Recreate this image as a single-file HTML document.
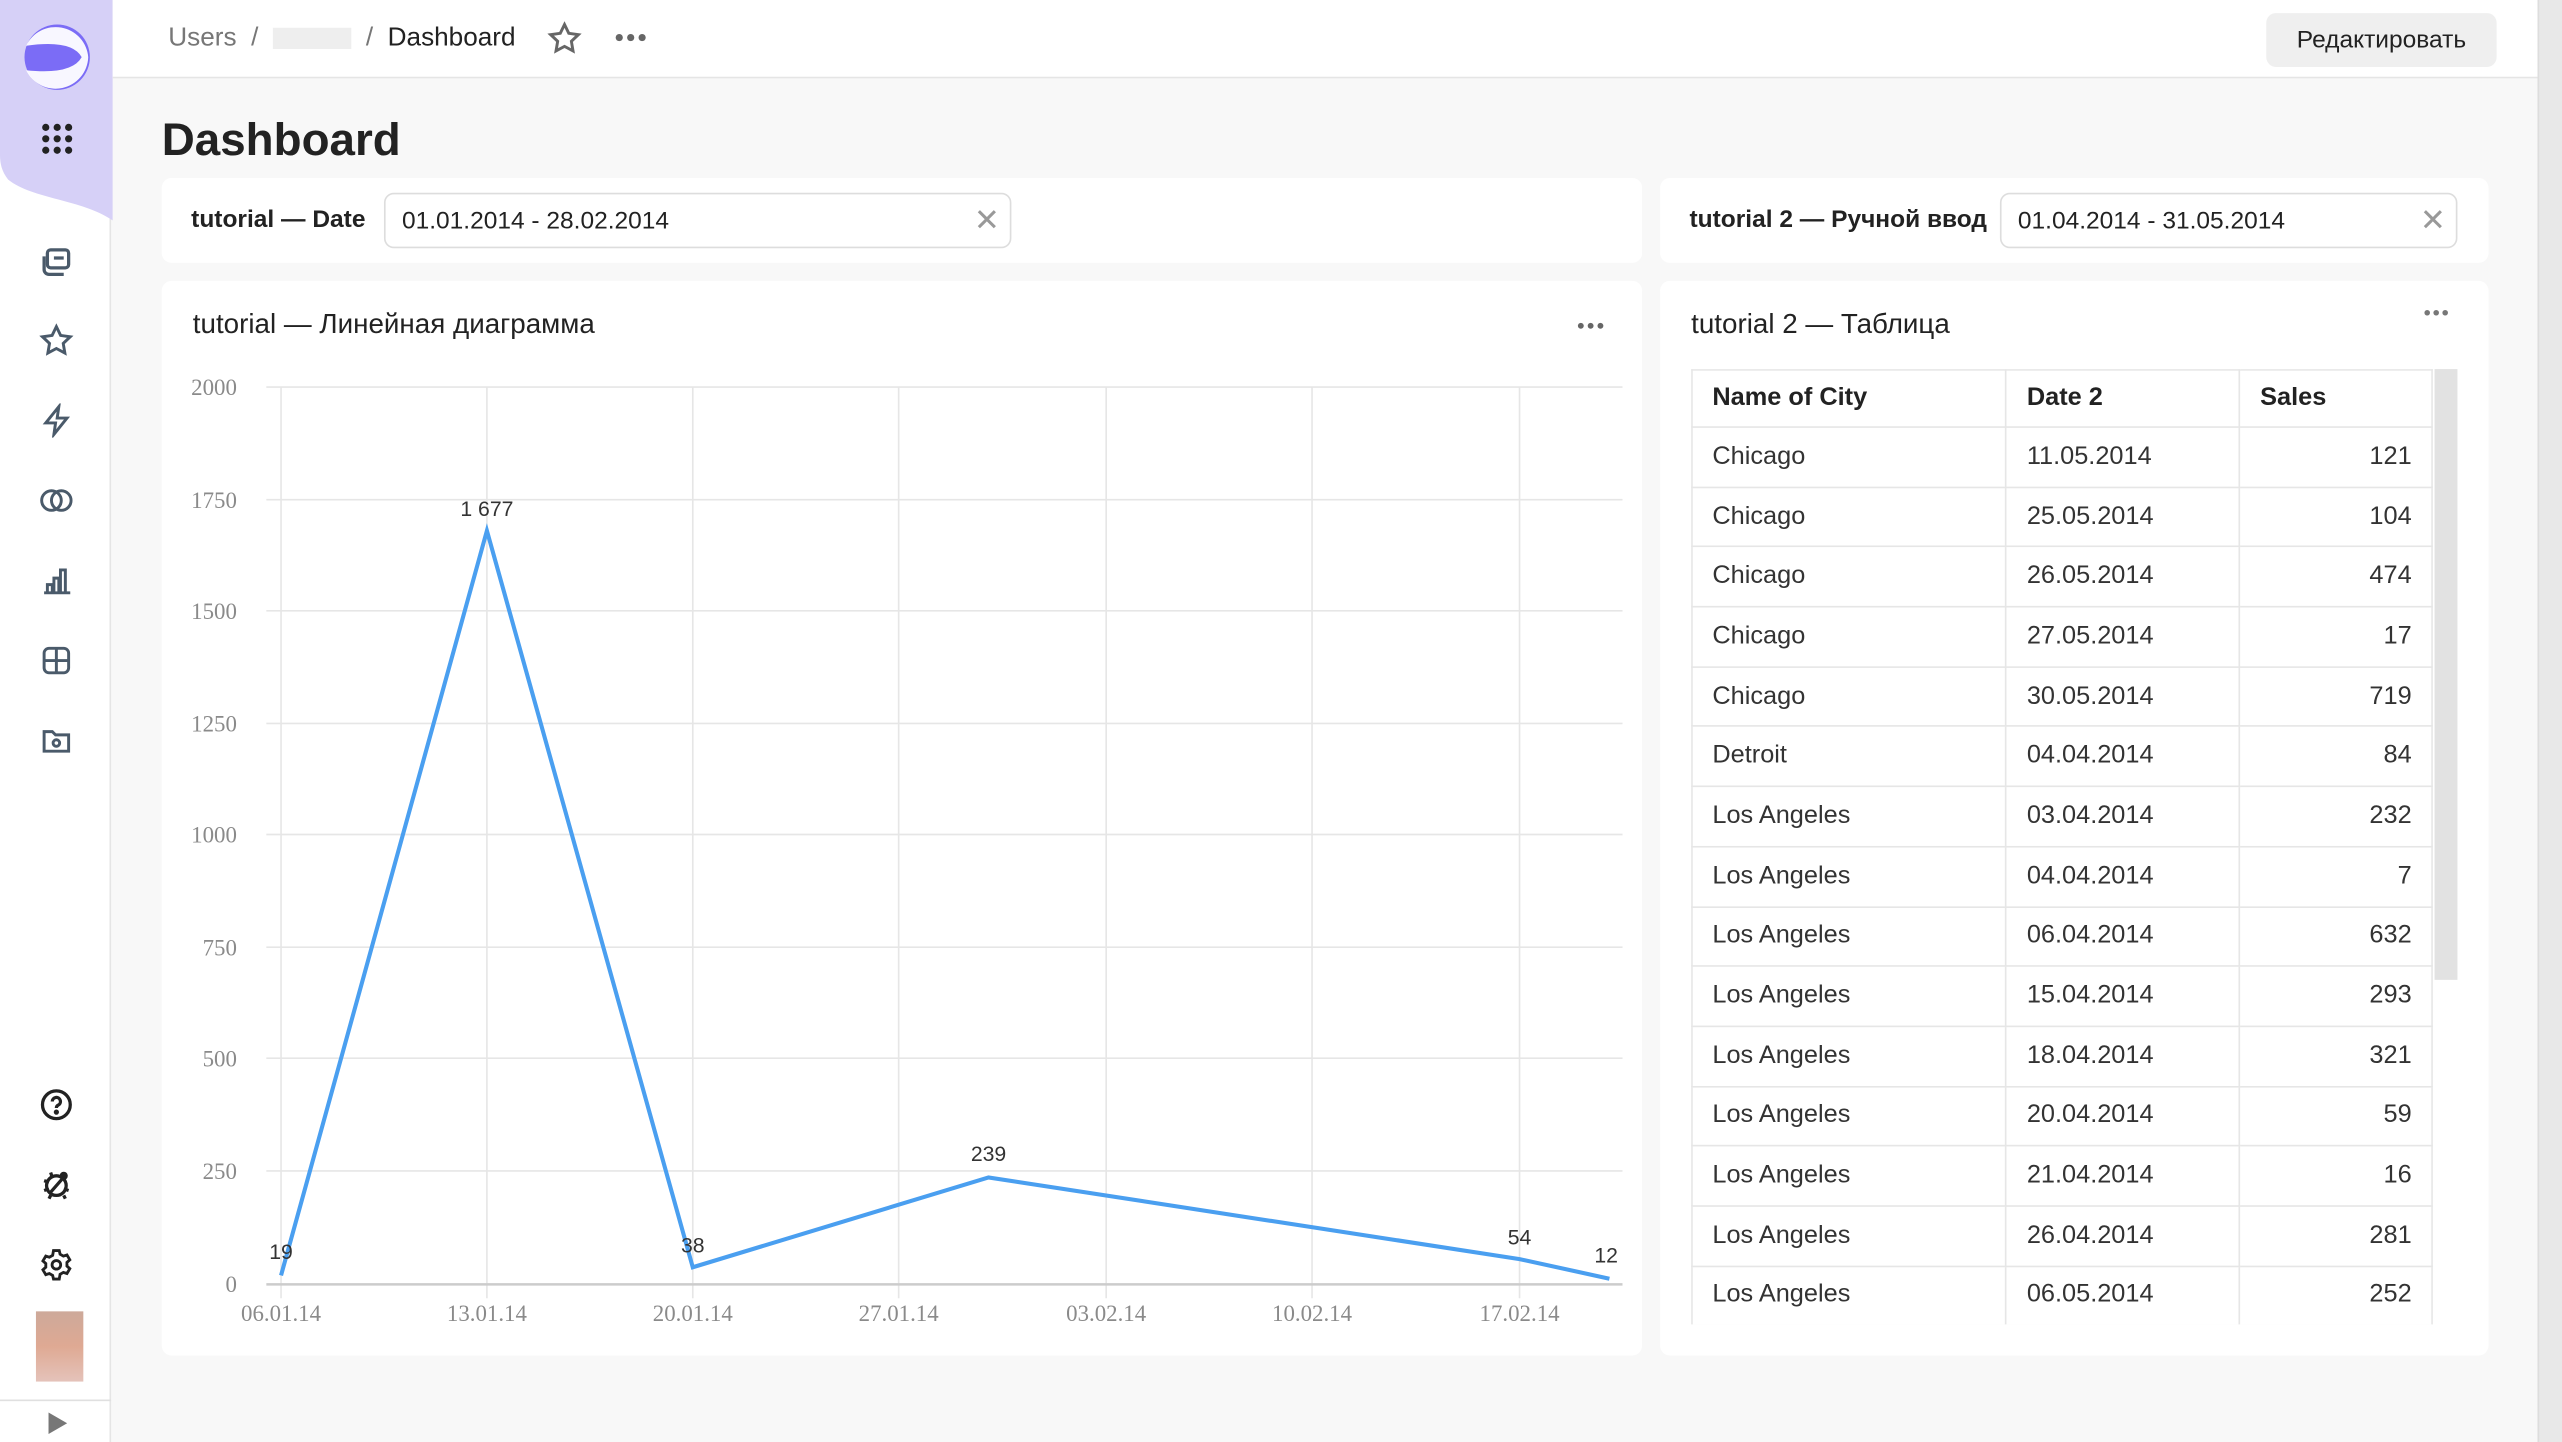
<!DOCTYPE html>
<html><head><meta charset="utf-8"><style>
*{box-sizing:border-box;margin:0;padding:0}
html,body{width:2562px;height:1442px;overflow:hidden;background:#f8f8f8}
#w{position:absolute;left:0;top:0;width:1568px;height:883px;transform:scale(1.63393,1.63307);transform-origin:0 0;font-family:"Liberation Sans","Noto Sans CJK SC",sans-serif;color:#222;background:#f8f8f8}
.a{position:absolute}
.card{position:absolute;background:#fff;border-radius:6px}
.inp{position:absolute;border:1px solid #ddd;border-radius:6px;background:#fff;font-size:15px;padding-left:10px;line-height:32px}
table{border-collapse:collapse;font-size:15.5px}
td,th{border:1px solid #e6e6e6;height:36.7px;padding:0 12px;text-align:left;font-weight:normal;color:#333}
th{font-weight:bold;color:#222;height:35px}
td.n{text-align:right}
.ic{position:absolute;left:24px;width:21px;height:21px}
</style></head><body><div id="w">
<div class="a" style="left:0;top:0;width:68px;height:883px;background:#fff;border-right:1px solid #e5e5e5"></div>
<svg class="a" style="left:0;top:0" width="69" height="140"><path d="M0 0H69V135C50 122 20 122 5 110 1 105 0 100 0 95Z" fill="#d6d0f7"/></svg>
<svg class="a" style="left:14px;top:14px" width="42" height="42"><circle cx="21" cy="21" r="20" fill="#7b6cf6"/><path d="M2 14Q30 10 36 21Q30 32 2 29A20 20 0 0 0 40 21A20 20 0 0 0 2 14Z" fill="#fff" opacity=".95"/></svg>
<svg class="a" style="left:25px;top:75px" width="20" height="20" fill="#222"><circle cx="3" cy="3" r="2.2"/><circle cx="10" cy="3" r="2.2"/><circle cx="17" cy="3" r="2.2"/><circle cx="3" cy="10" r="2.2"/><circle cx="10" cy="10" r="2.2"/><circle cx="17" cy="10" r="2.2"/><circle cx="3" cy="17" r="2.2"/><circle cx="10" cy="17" r="2.2"/><circle cx="17" cy="17" r="2.2"/></svg>
<svg class="ic" style="top:150px" viewBox="0 0 21 21" fill="none" stroke="#4a5a6a" stroke-width="2"><rect x="5" y="3" width="13" height="11" rx="2"/><path d="M3 7v8a3 3 0 0 0 3 3h9"/><path d="M9 8h6"/></svg>
<svg class="ic" style="top:198px" viewBox="0 0 21 21" fill="none" stroke="#4a5a6a" stroke-width="1.8"><path d="M10.5 2l2.6 5.4 5.9.8-4.3 4.1 1 5.9-5.2-2.8-5.2 2.8 1-5.9L2 8.2l5.9-.8z"/></svg>
<svg class="ic" style="top:247px" viewBox="0 0 21 21" fill="none" stroke="#4a5a6a" stroke-width="1.8"><path d="M12 2L4 12h6l-1 7 8-10h-6z"/></svg>
<svg class="ic" style="top:296px" viewBox="0 0 21 21" fill="none" stroke="#4a5a6a" stroke-width="1.8"><circle cx="7.5" cy="10.5" r="6"/><circle cx="13.5" cy="10.5" r="6"/></svg>
<svg class="ic" style="top:345px" viewBox="0 0 21 21" fill="none" stroke="#4a5a6a" stroke-width="1.8"><path d="M3 18h16M5 18v-5h3v5M9 18V9h3v9M13 18V4h3v14"/></svg>
<svg class="ic" style="top:394px" viewBox="0 0 21 21" fill="none" stroke="#4a5a6a" stroke-width="1.8"><rect x="3" y="3" width="15" height="15" rx="3"/><path d="M3 10.5h15M10.5 3v15"/></svg>
<svg class="ic" style="top:443px" viewBox="0 0 21 21" fill="none" stroke="#4a5a6a" stroke-width="1.8"><path d="M3 5h5l2 2h8v10H3z"/><circle cx="10.5" cy="12" r="2"/></svg>
<svg class="ic" style="top:666px" viewBox="0 0 21 21" fill="none" stroke="#222" stroke-width="2"><circle cx="10.5" cy="10.5" r="8.5"/><path d="M8 8.5a2.5 2.5 0 1 1 3.5 2.3c-.8.4-1 .9-1 1.7"/><circle cx="10.5" cy="15" r=".6" fill="#222"/></svg>
<svg class="ic" style="top:715px" viewBox="0 0 21 21" fill="none" stroke="#222" stroke-width="2"><circle cx="10.5" cy="11" r="6"/><path d="M7 15l7-8M3 8l3 1M3 14l3-1M18 14l-3-1M15 17l1 2M7 17l-1 2M7 3l1 3"/><circle cx="15" cy="5" r="1.5" fill="#222"/></svg>
<svg class="ic" style="top:764px" viewBox="0 0 24 24" fill="none" stroke="#222" stroke-width="2"><circle cx="12" cy="12" r="3"/><path d="M10 2h4l.6 2.6 2.3 1.3 2.5-.8 2 3.4-2 1.8v2.6l2 1.8-2 3.4-2.5-.8-2.3 1.3L14 22h-4l-.6-2.6-2.3-1.3-2.5.8-2-3.4 2-1.8v-2.6l-2-1.8 2-3.4 2.5.8 2.3-1.3z"/></svg>
<div class="a" style="left:22px;top:803px;width:29px;height:43px;background:linear-gradient(#c49a88,#d99a80 50%,#e0b8ae);opacity:.85"></div>
<div class="a" style="left:0;top:857px;width:68px;border-top:1px solid #e0e0e0"></div>
<div class="a" style="left:28px;top:862px;font-size:14px;color:#777">▶</div>
<div class="a" style="left:69px;top:0;width:1484px;height:48px;background:#fff;border-bottom:1px solid #e5e5e5"></div>
<div class="a" style="left:103px;top:15px;font-size:16px;color:#777">Users&nbsp;&nbsp;/&nbsp;&nbsp;<span style="display:inline-block;width:48px;height:13px;background:#eee;vertical-align:middle"></span>&nbsp;&nbsp;/&nbsp;&nbsp;<span style="color:#222">Dashboard</span></div>
<svg class="a" style="left:335px;top:13px" width="21" height="21" viewBox="0 0 21 21" fill="none" stroke="#666" stroke-width="1.8"><path d="M10.5 2l2.6 5.4 5.9.8-4.3 4.1 1 5.9-5.2-2.8-5.2 2.8 1-5.9L2 8.2l5.9-.8z"/></svg>
<svg class="a" style="left:376px;top:20px" width="20" height="6" fill="#666"><circle cx="3" cy="3" r="2.2"/><circle cx="10" cy="3" r="2.2"/><circle cx="17" cy="3" r="2.2"/></svg>
<div class="a" style="left:1387px;top:8px;width:141px;height:33px;background:#efefef;border-radius:6px;font-size:15px;line-height:33px;text-align:center;color:#222">Редактировать</div>
<div class="a" style="left:1553px;top:0;width:15px;height:883px;background:#e8e8e8;border-left:1px solid #ddd"></div>
<div class="a" style="left:99px;top:70px;font-size:28px;font-weight:bold;color:#222">Dashboard</div>
<div class="card" style="left:99px;top:109px;width:906px;height:52px"></div>
<div class="a" style="left:117px;top:126px;font-size:15px;font-weight:bold">tutorial — Date</div>
<div class="inp" style="left:235px;top:118px;width:384px;height:34px;line-height:34px">01.01.2014 - 28.02.2014</div>
<div class="a" style="left:596px;top:124px;font-size:19px;color:#999">✕</div>
<div class="card" style="left:1016px;top:109px;width:507px;height:52px"></div>
<div class="a" style="left:1034px;top:126px;font-size:15px;font-weight:bold">tutorial 2 — Ручной ввод</div>
<div class="inp" style="left:1224px;top:118px;width:280px;height:34px;line-height:34px">01.04.2014 - 31.05.2014</div>
<div class="a" style="left:1481px;top:124px;font-size:19px;color:#999">✕</div>
<div class="card" style="left:99px;top:172px;width:906px;height:658px"></div>
<div class="a" style="left:118px;top:189px;font-size:17px">tutorial — Линейная диаграмма</div>
<svg class="a" style="left:965px;top:197px" width="18" height="5" fill="#666"><circle cx="2.5" cy="2.5" r="1.8"/><circle cx="8.5" cy="2.5" r="1.8"/><circle cx="14.5" cy="2.5" r="1.8"/></svg>
<svg class="a" style="left:0;top:0" width="1010" height="830" font-family="Liberation Serif,serif" font-size="14">
<g stroke="#e6e6e6" stroke-width="1">
<path d="M163 237H993M163 306H993M163 374H993M163 443H993M163 511H993M163 580H993M163 648H993M163 717H993"/>
<path d="M172 237V795M298 237V795M424 237V795M550 237V795M677 237V795M803 237V795M930 237V795"/>
</g>
<path d="M163 786.5H993" stroke="#ccc" stroke-width="1.5"/>
<g fill="#8a8a8a" text-anchor="end">
<text x="145" y="242">2000</text><text x="145" y="311">1750</text><text x="145" y="379">1500</text><text x="145" y="448">1250</text><text x="145" y="516">1000</text><text x="145" y="585">750</text><text x="145" y="653">500</text><text x="145" y="722">250</text><text x="145" y="791">0</text>
</g>
<g fill="#8a8a8a" text-anchor="middle">
<text x="172" y="809">06.01.14</text><text x="298" y="809">13.01.14</text><text x="424" y="809">20.01.14</text><text x="550" y="809">27.01.14</text><text x="677" y="809">03.02.14</text><text x="803" y="809">10.02.14</text><text x="930" y="809">17.02.14</text>
</g>
<polyline points="172,781 298,325 424,776 605,721 930,771 985,783" fill="none" stroke="#4a9ff0" stroke-width="2.5"/>
<g fill="#333" font-family="Liberation Sans,sans-serif" font-size="13" text-anchor="middle">
<text x="172" y="771">19</text><text x="298" y="316">1 677</text><text x="424" y="767">38</text><text x="605" y="711">239</text><text x="930" y="762">54</text><text x="983" y="773">12</text>
</g>
</svg>
<div class="card" style="left:1016px;top:172px;width:507px;height:658px"></div>
<div class="a" style="left:1035px;top:189px;font-size:17px">tutorial 2 — Таблица</div>
<svg class="a" style="left:1483px;top:189px" width="16" height="5" fill="#777"><circle cx="2.5" cy="2.5" r="1.7"/><circle cx="8" cy="2.5" r="1.7"/><circle cx="13.5" cy="2.5" r="1.7"/></svg>
<div class="a" style="left:1490px;top:226px;width:14px;height:374px;background:#e2e2e2"></div>
<div class="a" style="left:1035px;top:226px;width:454px;height:585px;overflow:hidden">
<table style="width:454px">
<colgroup><col style="width:193px"><col style="width:143px"><col style="width:118px"></colgroup>
<tr><th>Name of City</th><th>Date 2</th><th>Sales</th></tr>
<tr><td>Chicago</td><td>11.05.2014</td><td class="n">121</td></tr>
<tr><td>Chicago</td><td>25.05.2014</td><td class="n">104</td></tr>
<tr><td>Chicago</td><td>26.05.2014</td><td class="n">474</td></tr>
<tr><td>Chicago</td><td>27.05.2014</td><td class="n">17</td></tr>
<tr><td>Chicago</td><td>30.05.2014</td><td class="n">719</td></tr>
<tr><td>Detroit</td><td>04.04.2014</td><td class="n">84</td></tr>
<tr><td>Los Angeles</td><td>03.04.2014</td><td class="n">232</td></tr>
<tr><td>Los Angeles</td><td>04.04.2014</td><td class="n">7</td></tr>
<tr><td>Los Angeles</td><td>06.04.2014</td><td class="n">632</td></tr>
<tr><td>Los Angeles</td><td>15.04.2014</td><td class="n">293</td></tr>
<tr><td>Los Angeles</td><td>18.04.2014</td><td class="n">321</td></tr>
<tr><td>Los Angeles</td><td>20.04.2014</td><td class="n">59</td></tr>
<tr><td>Los Angeles</td><td>21.04.2014</td><td class="n">16</td></tr>
<tr><td>Los Angeles</td><td>26.04.2014</td><td class="n">281</td></tr>
<tr><td>Los Angeles</td><td>06.05.2014</td><td class="n">252</td></tr>
<tr><td>Los Angeles</td><td>07.05.2014</td><td class="n">100</td></tr>
</table></div>
</div></body></html>
